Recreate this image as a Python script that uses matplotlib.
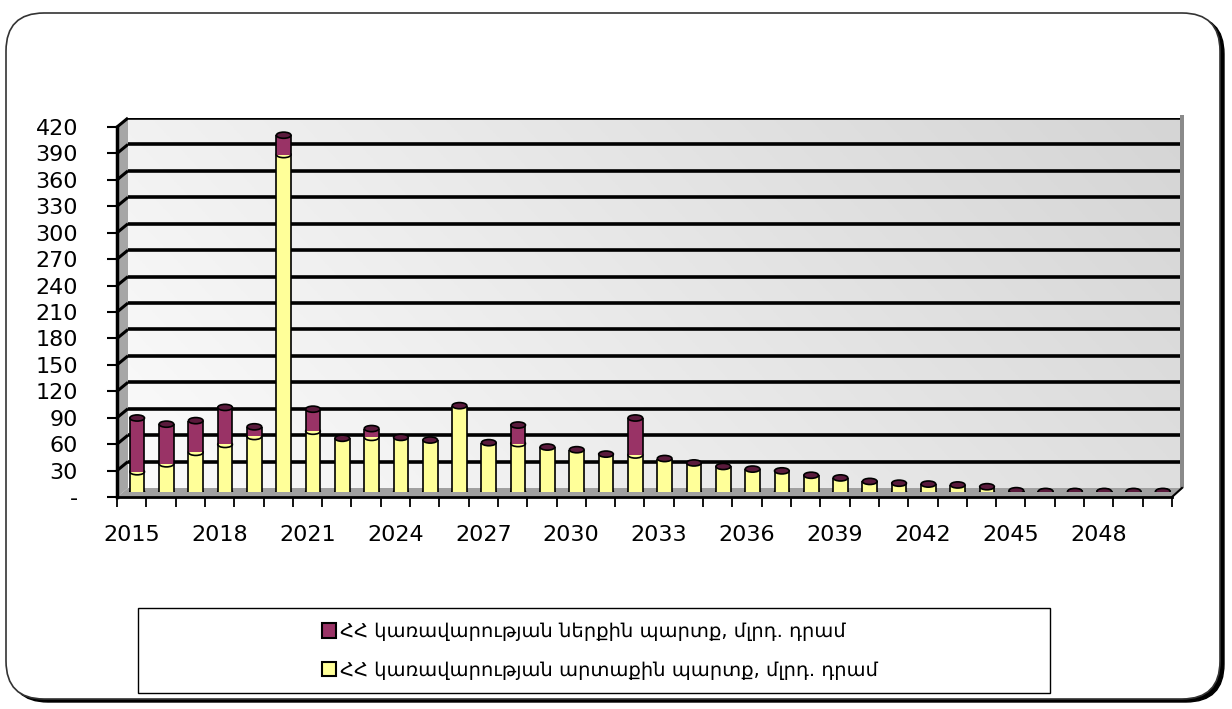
import numpy as np
import matplotlib.pyplot as plt
from matplotlib.patches import Ellipse, Polygon, Rectangle, FancyBboxPatch, Patch

# --- Data (bln AMD) ---
years = list(range(2015, 2051))
external = [23, 32, 45, 54, 63, 383, 69, 61, 62, 62, 59, 98, 56, 55, 51, 48, 43, 42,
            38, 33, 29, 26, 24, 19, 16, 12, 10, 9, 8, 6, 1, 0.3, 0.3, 0.3, 0.3, 0.3]
internal = [61, 45, 36, 42, 11, 22, 25, 0, 10, 0, 0, 0, 0, 21, 0, 0, 0, 42,
            0, 0, 0, 0, 0, 0, 0, 0, 0, 0, 0, 0, 0.5, 0.3, 0.3, 0.3, 0.3, 0.3]
yticks = list(range(0, 421, 30))
ytick_labels = ["-"] + [str(v) for v in yticks[1:]]
label_internal = "ՀՀ կառավարության ներքին պարտք, մլրդ. դրամ"
label_external = "ՀՀ կառավարության արտաքին պարտք, մլրդ. դրամ"

PURPLE = "#993366"
YELLOW = "#ffff99"
CAP = "#5a1a3c"

W, H = 1232, 709
fig = plt.figure(figsize=(W / 100, H / 100), dpi=100)
plt.rcParams["font.family"] = ["DejaVu Sans"]


def px_axes(x0, y0, x1, y1, **kw):
    # pixel box (top-left origin) -> figure axes
    return fig.add_axes([x0 / W, (H - y1) / H, (x1 - x0) / W, (y1 - y0) / H], **kw)


# --- background layer: border, walls, floor, legend box ---
bg = fig.add_axes([0, 0, 1, 1], zorder=0)
bg.set_xlim(0, W)
bg.set_ylim(H, 0)
bg.axis("off")
bg.add_patch(FancyBboxPatch((10, 16), 1214, 686, boxstyle="round,pad=0,rounding_size=38",
                            facecolor="black", edgecolor="black", lw=1))
bg.add_patch(FancyBboxPatch((6, 13), 1214, 686, boxstyle="round,pad=0,rounding_size=38",
                            facecolor="white", edgecolor="#333333", lw=1.2))

fx0, fx1, fy0 = 117, 1172, 497      # front floor edge
bx0, bx1, by0 = 128, 1182, 488      # back wall bottom
ppu = 370 / 420                      # pixels per unit
bg.add_patch(Polygon([(fx0, fy0 - 420 * ppu), (bx0, by0 - 420 * ppu), (bx0, by0), (fx0, fy0)],
                     closed=True, facecolor="#a6a6a6", edgecolor="none"))
bg.add_patch(Polygon([(fx0, fy0), (fx1, fy0), (bx1, by0), (bx0, by0)],
                     closed=True, facecolor="#a0a0a0", edgecolor="none"))
bg.plot([fx1, bx1], [fy0, by0], color="black", lw=1.5)
bg.add_patch(Rectangle((1180, 115), 4, 373, facecolor="#8a8a8a", edgecolor="none"))
for v in yticks[1:]:
    bg.plot([fx0, bx0], [fy0 - v * ppu, by0 - v * ppu], color="black", lw=2.2,
            solid_capstyle="butt")
bg.add_patch(Rectangle((138, 608), 912, 85, facecolor="none", edgecolor="black", lw=1))

# --- back wall with gridlines ---
back = px_axes(bx0, by0 - 420 * ppu, 1180, by0, zorder=1)
gx = np.linspace(0, 1, 300)[None, :]
gy = np.linspace(0, 1, 150)[:, None]
shade = 0.985 - 0.15 * (0.75 * gx + 0.25 * gy)
grad = np.dstack([shade, shade, shade])
back.imshow(grad, aspect="auto", extent=(0, 1, 0, 420), origin="lower")
back.set_xlim(0, 1)
back.set_ylim(0, 420)
for v in yticks[1:]:
    back.axhline(v, color="black", lw=2.6)
back.set_xticks([])
back.set_yticks([])
for s in back.spines.values():
    s.set_visible(False)

# --- front axis: ticks and labels ---
front = px_axes(fx0, fy0 - 420 * ppu, fx1, fy0, zorder=2)
front.patch.set_alpha(0)
n = len(years)
front.set_xlim(-0.5, n - 0.5)
front.set_ylim(0, 420)
for s in ["top", "right"]:
    front.spines[s].set_visible(False)
front.spines["left"].set_linewidth(2.5)
front.spines["bottom"].set_linewidth(2)
front.set_yticks(yticks)
front.set_yticklabels(ytick_labels, fontsize=16)
front.tick_params(axis="y", length=7, width=1.5, pad=21)
front.set_xticks(range(0, n, 3))
front.set_xticklabels([str(years[i]) for i in range(0, n, 3)], fontsize=16)
front.set_xticks(np.arange(-0.5, n, 1), minor=True)
front.tick_params(axis="x", which="major", length=0, pad=20)
front.tick_params(axis="x", which="minor", length=7, width=1.3)

# --- bars (cylinders) at mid depth ---
mid = px_axes(fx0 + 5.5, fy0 - 5 - 420 * ppu, fx1 + 5.5, fy0 - 5, zorder=3)
mid.set_xlim(-0.5, n - 0.5)
mid.set_ylim(0, 420)
mid.axis("off")
bw = 0.5
eh = 7
for i in range(n):
    e, d = external[i], internal[i]
    tot = e + d
    mid.add_patch(Ellipse((i, 0), bw, eh, facecolor=YELLOW, edgecolor="black", lw=1.2, zorder=2))
    mid.bar(i, e, width=bw, color=YELLOW, edgecolor="none", zorder=3)
    if d > 1:
        mid.add_patch(Ellipse((i, e), bw, eh, facecolor=YELLOW, edgecolor="black", lw=1.2, zorder=4))
        mid.bar(i, d, bottom=e, width=bw, color=PURPLE, edgecolor="none", zorder=5)
    mid.vlines([i - bw / 2, i + bw / 2], 0, tot, color="black", lw=1.2, zorder=6)
    mid.add_patch(Ellipse((i, tot), bw, eh, facecolor=CAP, edgecolor="black", lw=1.2, zorder=7))

# --- legend ---
handles = [Patch(facecolor=PURPLE, edgecolor="black", lw=1.5, label=label_internal),
           Patch(facecolor=YELLOW, edgecolor="black", lw=1.5, label=label_external)]
fig.legend(handles=handles, loc="center", bbox_to_anchor=(600 / W, 1 - 651 / H),
           frameon=False, fontsize=14, handlelength=0.7, handleheight=0.8,
           handletextpad=0.2, labelspacing=1.0)

fig.savefig("out.png", dpi=100)
